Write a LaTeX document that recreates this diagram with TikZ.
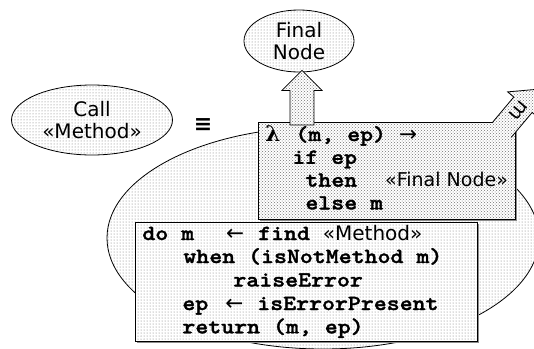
\documentclass[tikz,border=0pt]{standalone}
\usepackage{fontspec}
\setmainfont{DejaVu Sans}
\newfontfamily\codefont{lmmonolt10-bold}[Extension=.otf,FakeStretch=1.147,FakeBold=1.6]
\newfontfamily\sansfont{DejaVu Sans}
\newfontfamily\greekfont{DejaVu Serif}
\usetikzlibrary{shapes.geometric,patterns,shadows,calc}

\begin{document}
\begin{tikzpicture}[x=1pt,y=-1pt,line width=0.8pt,
  bubble/.style={ellipse,draw,inner sep=0pt,align=center,
    preaction={fill=white},pattern=dots,pattern color=black!55,
    font=\sansfont\fontsize{20}{22.5}\selectfont},
  codebox/.style={rectangle,draw,inner sep=0pt,anchor=north west,
    drop shadow={shadow xshift=2pt,shadow yshift=-2pt,fill=black!45,opacity=1},
    preaction={fill=white}},
  lamfill/.style={pattern=crosshatch dots,pattern color=black!55},
  dofill/.style={pattern=dots,pattern color=black!55},
  blockarrow/.style={preaction={fill=white},pattern=crosshatch dots,pattern color=black!55},
  code/.style={inner sep=0pt,anchor=base west,
    font=\codefont\fontsize{21.5}{24}\selectfont},
  sanstext/.style={font=\sansfont\fontsize{#1}{#1}\selectfont},
]
\useasboundingbox (0,0) rectangle (534,348);

% outer bubble holding the expansion
\node[bubble,minimum width=432pt,minimum height=222pt] (body) at (323,238) {};

% left-hand side of the definition
\node[bubble,minimum width=161pt,minimum height=70pt] (call) at (92,120) {Call\\«Method»};
\node[inner sep=0pt,font=\sansfont\bfseries\fontsize{22}{22}\selectfont] (eqv) at (203,125.5) {≡};

% target node
\node[bubble,minimum width=110pt,minimum height=62pt] (fin) at (299,41) {Final\\Node};

% lambda box
\node[codebox,lamfill,minimum width=257pt,minimum height=97pt] (lam) at (258,122) {};
\node[code] (l1) at (265,141)   {{\greekfont\bfseries λ}\hspace{2pt} (m, ep) {\sansfont →}};
\node[code] (l2) at (292,163.8) {if ep};
\node[code] (l3) at (305,186.6) {then\hspace{28pt}{\sansfont\fontsize{19}{20}\selectfont «Final Node»}};
\node[code] (l4) at (305,209.4) {else m};

% do box
\node[codebox,dofill,minimum width=342pt,minimum height=119pt] (dob) at (135,222) {};
\node[code] (d1) at (142,240)   {do m\makebox[64pt][r]{\sansfont ←\hspace*{14pt}}find {\sansfont\fontsize{20}{22}\selectfont «Method»}};
\node[code] (d2) at (183,263)   {when (isNotMethod m)};
\node[code] (d3) at (233,286.5) {raiseError};
\node[code] (d4) at (182,310)   {ep\makebox[49pt][r]{\sansfont ←\hspace*{14pt}}isErrorPresent};
\node[code] (d5) at (182,333.3) {return (m, ep)};

% block arrow from the lambda box up to the final node
\coordinate (upbase) at ($(lam.north west)+(44,3)$);
\coordinate (uptip)  at ($(fin.south -| upbase)+(0,-2)$);
\draw[blockarrow]
  ($(upbase)+(-12,0)$) -- ($(uptip)+(-12,20)$) -- ($(uptip)+(-20,20)$) -- (uptip)
  -- ($(uptip)+(20,20)$) -- ($(uptip)+(12,20)$) -- ($(upbase)+(12,0)$) -- cycle;

% block arrow carrying m out of the lambda box
\coordinate (mtail) at ($(lam.north east)+(-13.8,7.7)$);
\begin{scope}[shift={(mtail)},rotate=50]
  \fill[blockarrow] (0,12) -- (32.6,12) -- (32.6,20) -- (52.6,0) -- (32.6,-20) -- (32.6,-12) -- (0,-12) -- cycle;
  \draw (0,12) -- (32.6,12) -- (32.6,20) -- (52.6,0) -- (32.6,-20) -- (32.6,-12) -- (0,-12);
  \node[inner sep=0pt,sanstext=20,rotate=-130] (mlab) at (25,0) {m};
\end{scope}
\end{tikzpicture}
\end{document}
